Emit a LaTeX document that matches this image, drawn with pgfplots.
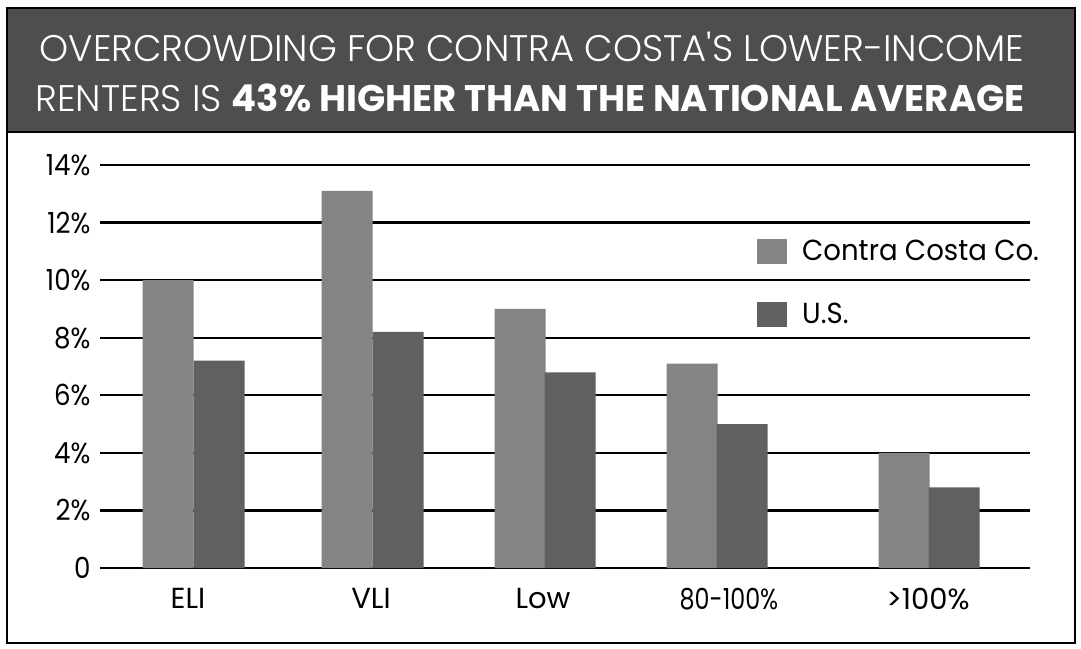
\documentclass[border=0pt]{standalone}
\usepackage{graphicx}
\usepackage{pgfplots}
\pgfplotsset{compat=1.18}
\usepackage{fontspec}
\setmainfont{Poppins}[Numbers=Proportional]
\newfontfamily\lightfont{Poppins Light}[Numbers=Proportional]
\definecolor{banner}{RGB}{78,78,78}
\definecolor{cc}{RGB}{132,132,132}
\definecolor{us}{RGB}{96,96,96}
\newcommand\nx[1]{\scalebox{0.82}[1]{#1}}
\newcommand\yx[1]{\scalebox{0.9}[1]{#1}}
\newcommand\lx[1]{\scalebox{0.95}[1]{#1}}
\begin{document}
\begin{tikzpicture}[x=1pt,y=1pt]
\useasboundingbox (0,0) rectangle (1081,648);
\fill[white] (0,0) rectangle (1081,648);
\fill[banner] (7,516) rectangle (1075,640);
\draw[black, line width=2pt] (7,5) rectangle (1075,640);
\draw[black, line width=2pt] (7,516) -- (1075,516);
\node[white, font=\lightfont\fontsize{37}{40}\selectfont] at (532,601) {OVERCROWDING FOR CONTRA COSTA'S LOWER-INCOME};
\node[white, font=\fontsize{37}{40}\selectfont] at (530,550) {{\lightfont RENTERS IS }\textbf{43\% HIGHER THAN THE NATIONAL AVERAGE}};
\begin{axis}[
  at={(100pt,80pt)}, anchor=south west, scale only axis,
  width=930pt, height=403pt,
  xmin=100, xmax=1030, ymin=0, ymax=14,
  axis line style={draw=none}, major tick length=0pt,
  ymajorgrids, grid style={black, line width=2.2pt},
  ytick={0,2,4,6,8,10,12,14},
  yticklabels={\yx{0},\yx{2\%},\yx{4\%},\yx{6\%},\yx{8\%},\yx{10\%},\yx{12\%},\yx{14\%}},
  xtick={188,371,543,729,928},
  xticklabels={ELI,VLI,Low,\nx{80-100\%},>100\%},
  /pgf/number format/assume math mode=true,
  tick label style={font=\fontsize{29}{30}\selectfont},
  yticklabel style={anchor=east, xshift=-6pt, font=\fontsize{29}{30}\selectfont},
  xticklabel style={yshift=-17pt},
  legend style={at={(axis cs:754,11.53)}, anchor=north west, draw=none, fill=none,
    font=\fontsize{29}{32}\selectfont, row sep=37pt, column sep=13pt, legend cell align=left},
  legend image code/.code={\fill[#1] (0pt,-12.5pt) rectangle (30pt,12.5pt);},
]
\addplot[ybar, bar width=51, bar shift=0pt, fill=cc, draw=none] coordinates {(168,10.0) (347,13.1) (520,9.0) (692,7.1) (904,4.0)};
\addlegendentry{\lx{Contra Costa Co.}}
\addplot[ybar, bar width=51, bar shift=0pt, fill=us, draw=none] coordinates {(219,7.2) (398,8.2) (570,6.8) (742,5.0) (954,2.8)};
\addlegendentry{\lx{U.S.}}
\end{axis}
\end{tikzpicture}
\end{document}
